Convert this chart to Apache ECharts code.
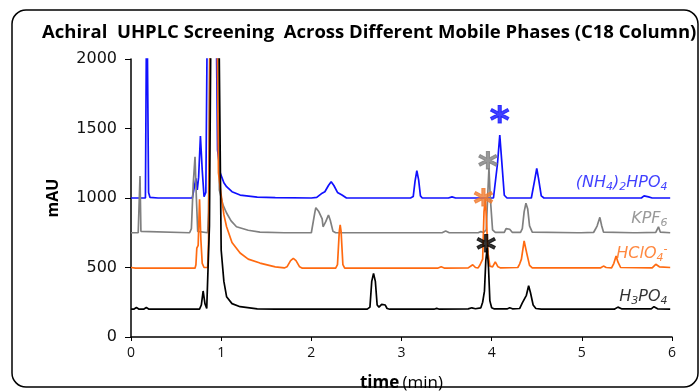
<!DOCTYPE html>
<html>
<head>
<meta charset="utf-8">
<script src="https://cdn.jsdelivr.net/npm/echarts@6/dist/echarts.min.js"></script>
<style>
  html, body { margin: 0; padding: 0; background: #fff; }
  #main { width: 700px; height: 391px; }
</style>
</head>
<body>
<div id="main"></div>
<script>
// chromatogram traces, [time (min), mAU]
var nh4Trace = [
  [0,1000],[0.16,1000],[0.17,1010],[0.175,2600],[0.19,2600],[0.195,1040],[0.21,1005],[0.3,1000],
  [0.68,1000],[0.70,1010],[0.72,1142],[0.735,1058],[0.75,1150],[0.77,1446],[0.79,1200],[0.81,1010],
  [0.83,1040],[0.85,2600],[0.94,2600],[0.96,1345],[0.99,1180],[1.03,1110],[1.06,1081],[1.12,1045],
  [1.21,1021],[1.4,1006],[1.6,1002],[2.0,1000],[2.06,1005],[2.12,1035],[2.15,1045],[2.19,1090],
  [2.22,1117],[2.25,1090],[2.29,1040],[2.31,1030],[2.34,1022],[2.36,1010],[2.39,1000],[3.1,1000],
  [3.13,1010],[3.15,1120],[3.17,1196],[3.19,1130],[3.21,1015],[3.23,1000],[3.52,1000],[3.56,1008],
  [3.6,1000],[4.02,1000],[4.04,1010],[4.065,1250],[4.09,1453],[4.11,1280],[4.14,1020],[4.17,1000],
  [4.44,1000],[4.46,1010],[4.48,1140],[4.50,1213],[4.52,1140],[4.55,1015],[4.58,1000],[5.66,1000],
  [5.69,1015],[5.71,1022],[5.74,1008],[5.78,1000],[5.98,1000]
];
var kpf6Trace = [
  [0,750],[0.08,750],[0.09,760],[0.10,1158],[0.11,760],[0.12,750],[0.65,750],[0.67,780],[0.69,1100],
  [0.71,1297],[0.725,1000],[0.74,760],[0.76,750],[0.85,750],[0.86,900],[0.88,2600],[0.96,2600],
  [0.98,1058],[1.02,950],[1.06,892],[1.11,835],[1.17,793],[1.3,768],[1.43,755],[1.7,750],[2.0,750],
  [2.02,760],[2.04,900],[2.05,930],[2.08,905],[2.10,914],[2.12,850],[2.13,793],[2.16,830],[2.19,878],
  [2.21,840],[2.24,760],[2.27,750],[3.45,750],[3.49,762],[3.53,750],[3.85,750],[3.88,758],[3.91,752],
  [3.94,770],[3.955,1000],[3.97,1214],[3.985,1000],[4.01,770],[4.04,752],[4.14,752],[4.16,780],
  [4.18,793],[4.20,775],[4.23,752],[4.32,752],[4.34,780],[4.36,900],[4.38,962],[4.40,920],[4.42,800],
  [4.45,755],[4.95,750],[4.97,762],[4.99,750],[5.13,752],[5.15,775],[5.17,800],[5.20,861],[5.22,800],
  [5.24,755],[5.57,750],[5.59,760],[5.61,750],[5.82,752],[5.85,793],[5.87,755],[5.98,750]
];
var hclo4Trace = [
  [0,500],[0.05,495],[0.71,495],[0.72,520],[0.73,640],[0.745,660],[0.76,990],[0.775,700],[0.79,530],
  [0.81,500],[0.85,500],[0.86,700],[0.88,2600],[0.95,2600],[0.97,1180],[1.0,1020],[1.03,880],
  [1.06,793],[1.12,680],[1.21,604],[1.3,560],[1.43,532],[1.6,505],[1.7,497],[1.73,505],[1.77,550],
  [1.80,566],[1.83,550],[1.87,505],[1.9,495],[2.27,495],[2.29,520],[2.31,760],[2.32,806],[2.33,760],
  [2.35,520],[2.37,495],[3.4,495],[3.44,505],[3.48,495],[3.74,497],[3.79,520],[3.82,500],[3.85,497],
  [3.87,518],[3.90,560],[3.915,900],[3.93,1000],[3.945,800],[3.96,600],[3.98,510],[4.01,505],
  [4.04,540],[4.07,505],[4.1,497],[4.29,500],[4.31,525],[4.33,560],[4.36,691],[4.39,600],[4.42,515],
  [4.45,497],[5.0,497],[5.02,505],[5.04,497],[5.21,498],[5.24,510],[5.27,500],[5.33,498],[5.355,530],
  [5.38,583],[5.40,540],[5.43,500],[5.78,498],[5.82,523],[5.86,505],[5.98,500]
];
var h3po4Trace = [
  [0,200],[0.03,200],[0.06,212],[0.09,200],[0.14,200],[0.17,212],[0.2,200],[0.76,200],[0.78,230],
  [0.80,331],[0.82,240],[0.84,206],[0.855,210],[0.87,800],[0.89,2600],[0.97,2600],[1.0,626],
  [1.03,400],[1.06,290],[1.12,240],[1.21,218],[1.4,202],[1.6,200],[2.62,200],[2.65,215],[2.67,400],
  [2.69,458],[2.71,400],[2.73,230],[2.75,215],[2.78,235],[2.80,247],[2.82,230],[2.84,205],[2.87,200],
  [3.36,200],[3.39,206],[3.42,200],[3.74,202],[3.78,210],[3.82,203],[3.88,210],[3.90,250],[3.92,330],
  [3.935,550],[3.95,640],[3.965,500],[3.98,260],[4.0,210],[4.03,202],[4.17,202],[4.20,210],[4.23,203],
  [4.31,205],[4.34,245],[4.36,256],[4.385,300],[4.41,369],[4.43,320],[4.46,230],[4.49,205],[4.55,200],
  [5.36,200],[5.40,215],[5.44,203],[5.77,202],[5.80,218],[5.84,203],[5.98,200]
];

// asterisks marking the target peak
var starNh4 = [4.09, 1604];
var starKpf6 = [3.96, 1273];
var starHclo4 = [3.91, 1009];
var starH3po4 = [3.94, 674];

// trace names
var nameNh4 = '{i|(NH}{s|4}{i|)}{s|2}{i|HPO}{s|4}';
var nameKpf6 = '{i|KPF}{s|6}';
var nameHclo4 = '{i|HClO}{s|4}{p|-}';
var nameH3po4 = '{i|H}{s|3}{i|PO}{s|4}';
var nameAt = [[5.95, 1108], [5.95, 849], [5.95, 597], [5.95, 288]];

var xTicks = [0, 6, 1];
var yTicks = [0, 2000, 500];

var cBlue = '#1010ff', cGray = '#808080', cOrange = '#ff6a10', cBlack = '#000000';

function trace(data, color) {
  return {
    type: 'line', data: data, showSymbol: false, silent: true, clip: true,
    lineStyle: { color: color, width: 1.7 }, z: 2
  };
}

function star(pos, color) {
  return {
    type: 'scatter', data: [pos], symbolSize: 0, silent: true, z: 5,
    label: {
      show: true, position: 'inside', formatter: '*', color: color,
      fontSize: 38, fontWeight: 'bold', fontFamily: 'DejaVu Sans', offset: [0, 9],
      textBorderColor: color, textBorderWidth: 1
    }
  };
}

function nameTag(txt, pos, color) {
  return {
    type: 'scatter', data: [pos], symbolSize: 0, silent: true, z: 5,
    label: {
      show: true, position: 'left', distance: 0, formatter: txt,
      rich: {
        i: { fontSize: 16, fontStyle: 'italic', color: color, fontFamily: 'DejaVu Sans', lineHeight: 20 },
        s: { fontSize: 11, fontStyle: 'italic', color: color, fontFamily: 'DejaVu Sans', lineHeight: 10, verticalAlign: 'bottom' },
        p: { fontSize: 11, fontStyle: 'italic', color: color, fontFamily: 'DejaVu Sans', lineHeight: 10, verticalAlign: 'top' }
      }
    }
  };
}

var option = {
  animation: false,
  backgroundColor: '#fff',
  title: {
    text: 'Achiral  UHPLC Screening  Across Different Mobile Phases (C18 Column)',
    left: 37, top: 18,
    textStyle: { fontSize: 18.5, fontWeight: 'bold', color: '#000', fontFamily: 'Open Sans' }
  },
  graphic: [{
    type: 'rect', shape: { x: 12, y: 10, width: 686, height: 377, r: 14 },
    style: { fill: 'none', stroke: '#000', lineWidth: 1.5 }, silent: true
  }],
  grid: { left: 131, right: 28, top: 59, bottom: 54, outerBoundsMode: 'none' },
  xAxis: {
    type: 'value', min: xTicks[0], max: xTicks[1], interval: xTicks[2],
    name: '{b|time} {n|(min)}', nameLocation: 'middle', nameGap: 38,
    nameTextStyle: {
      rich: {
        b: { fontSize: 17, fontWeight: 'bold', color: '#000', fontFamily: 'Open Sans' },
        n: { fontSize: 17, color: '#000', fontFamily: 'Open Sans' }
      }
    },
    axisLine: { lineStyle: { color: '#000', width: 1.5 } },
    axisTick: { lineStyle: { color: '#000' }, length: 4 },
    axisLabel: { fontSize: 14, color: '#111', fontFamily: 'Open Sans', margin: 9 },
    splitLine: { show: false }
  },
  yAxis: {
    type: 'value', min: yTicks[0], max: yTicks[1], interval: yTicks[2],
    name: 'mAU', nameLocation: 'middle', nameGap: 70, nameRotate: 90,
    nameTextStyle: { fontSize: 16, fontWeight: 'bold', color: '#000', fontFamily: 'Open Sans' },
    axisLine: { show: true, lineStyle: { color: '#000', width: 1.5 } },
    axisTick: { show: true, lineStyle: { color: '#000' }, length: 6 },
    axisLabel: {
      fontSize: 16, color: '#111', fontFamily: 'DejaVu Sans', margin: 14,
      formatter: function (v) { return String(v); }
    },
    splitLine: { show: false }
  },
  series: [
    trace(nh4Trace, cBlue),
    trace(kpf6Trace, cGray),
    trace(hclo4Trace, cOrange),
    trace(h3po4Trace, cBlack),
    star(starNh4, cBlue),
    star(starKpf6, cGray),
    star(starHclo4, '#f07c30'),
    star(starH3po4, cBlack),
    nameTag(nameNh4, nameAt[0], cBlue),
    nameTag(nameKpf6, nameAt[1], cGray),
    nameTag(nameHclo4, nameAt[2], cOrange),
    nameTag(nameH3po4, nameAt[3], cBlack)
  ]
};

echarts.init(document.getElementById('main')).setOption(option);
</script>
</body>
</html>
